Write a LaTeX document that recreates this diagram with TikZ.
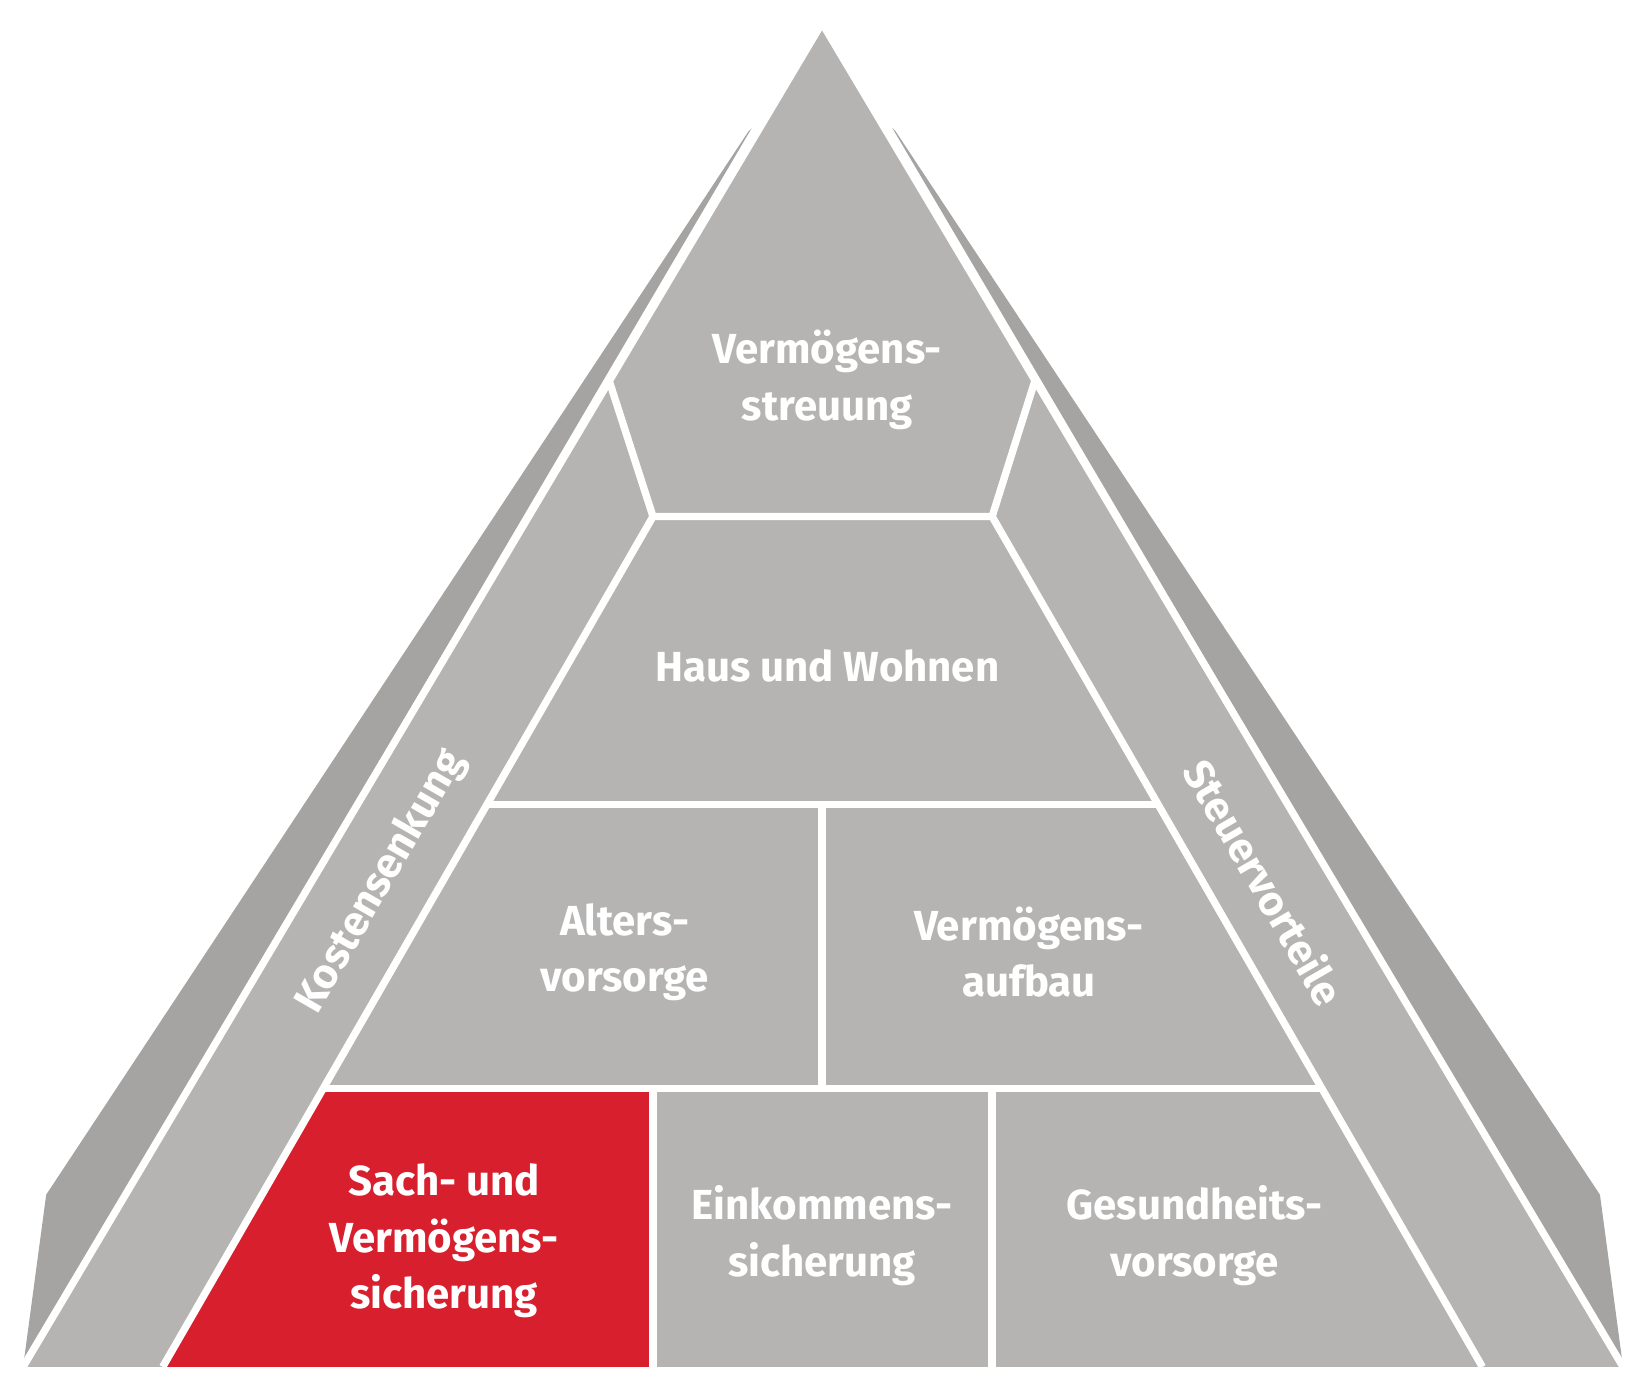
\documentclass[tikz,border=0pt]{standalone}
\usepackage{fontspec}
\setmainfont{Fira Sans}
\begin{document}
\begin{tikzpicture}[x=0.5pt,y=-0.5pt,
  wl/.style={draw=white,line width=3.5pt},
  lbl/.style={text=white,font=\fontsize{20}{27}\selectfont\bfseries,align=center}]
\definecolor{lg}{HTML}{B5B4B2}
\definecolor{dg}{HTML}{A5A4A2}
\definecolor{rd}{HTML}{D71F2E}
\useasboundingbox (0,0) rectangle (1565,1320);
% dark sides
\fill[dg] (716,122) -- (713,125) -- (44,1138) -- (22,1302) -- cycle;
\fill[dg] (850,122) -- (853,125) -- (1524,1138) -- (1546,1302) -- cycle;
% main triangle
\coordinate (A) at (783,22);
\coordinate (BL) at (22,1302);
\coordinate (BR) at (1546,1302);
\fill[lg] (A) -- (BL) -- (BR) -- cycle;
\fill[rd] (155,1302) -- (305,1037) -- (622,1037) -- (622,1302) -- cycle;
% white lines
\draw[wl] (BL) -- (A) -- (BR);
\coordinate (P1) at (580,362); \coordinate (P2) at (622,492);
\coordinate (P3) at (945,492); \coordinate (P4) at (986,362);
\draw[wl] (P1) -- (P2) -- (P3) -- (P4);
\draw[wl] (P2) -- (155,1302);
\draw[wl] (P3) -- (1412,1302);
\draw[wl] (465,766) -- (1101,766);
\draw[wl] (308,1037) -- (1257,1037);
\draw[wl] (783,766) -- (783,1037);
\draw[wl] (622,1037) -- (622,1302);
\draw[wl] (945,1037) -- (945,1302);
% labels
\node[lbl] (t1) at (788,362) {Vermögens-\\streuung};
\node[lbl] (t2) at (788,634) {Haus und Wohnen};
\node[lbl] (t3) at (595,907) {Alters-\\vorsorge};
\node[lbl] (t4) at (980,907) {Vermögens-\\aufbau};
\node[lbl] (t5) at (423,1182) {Sach- und\\Vermögens-\\sicherung};
\node[lbl] (t6) at (783,1177) {Einkommens-\\sicherung};
\node[lbl] (t7) at (1138,1177) {Gesundheits-\\vorsorge};
\node[lbl,rotate=60] (t8) at (363,840) {Kostensenkung};
\node[lbl,rotate=-60] (t9) at (1205,840) {Steuervorteile};
\end{tikzpicture}
\end{document}
